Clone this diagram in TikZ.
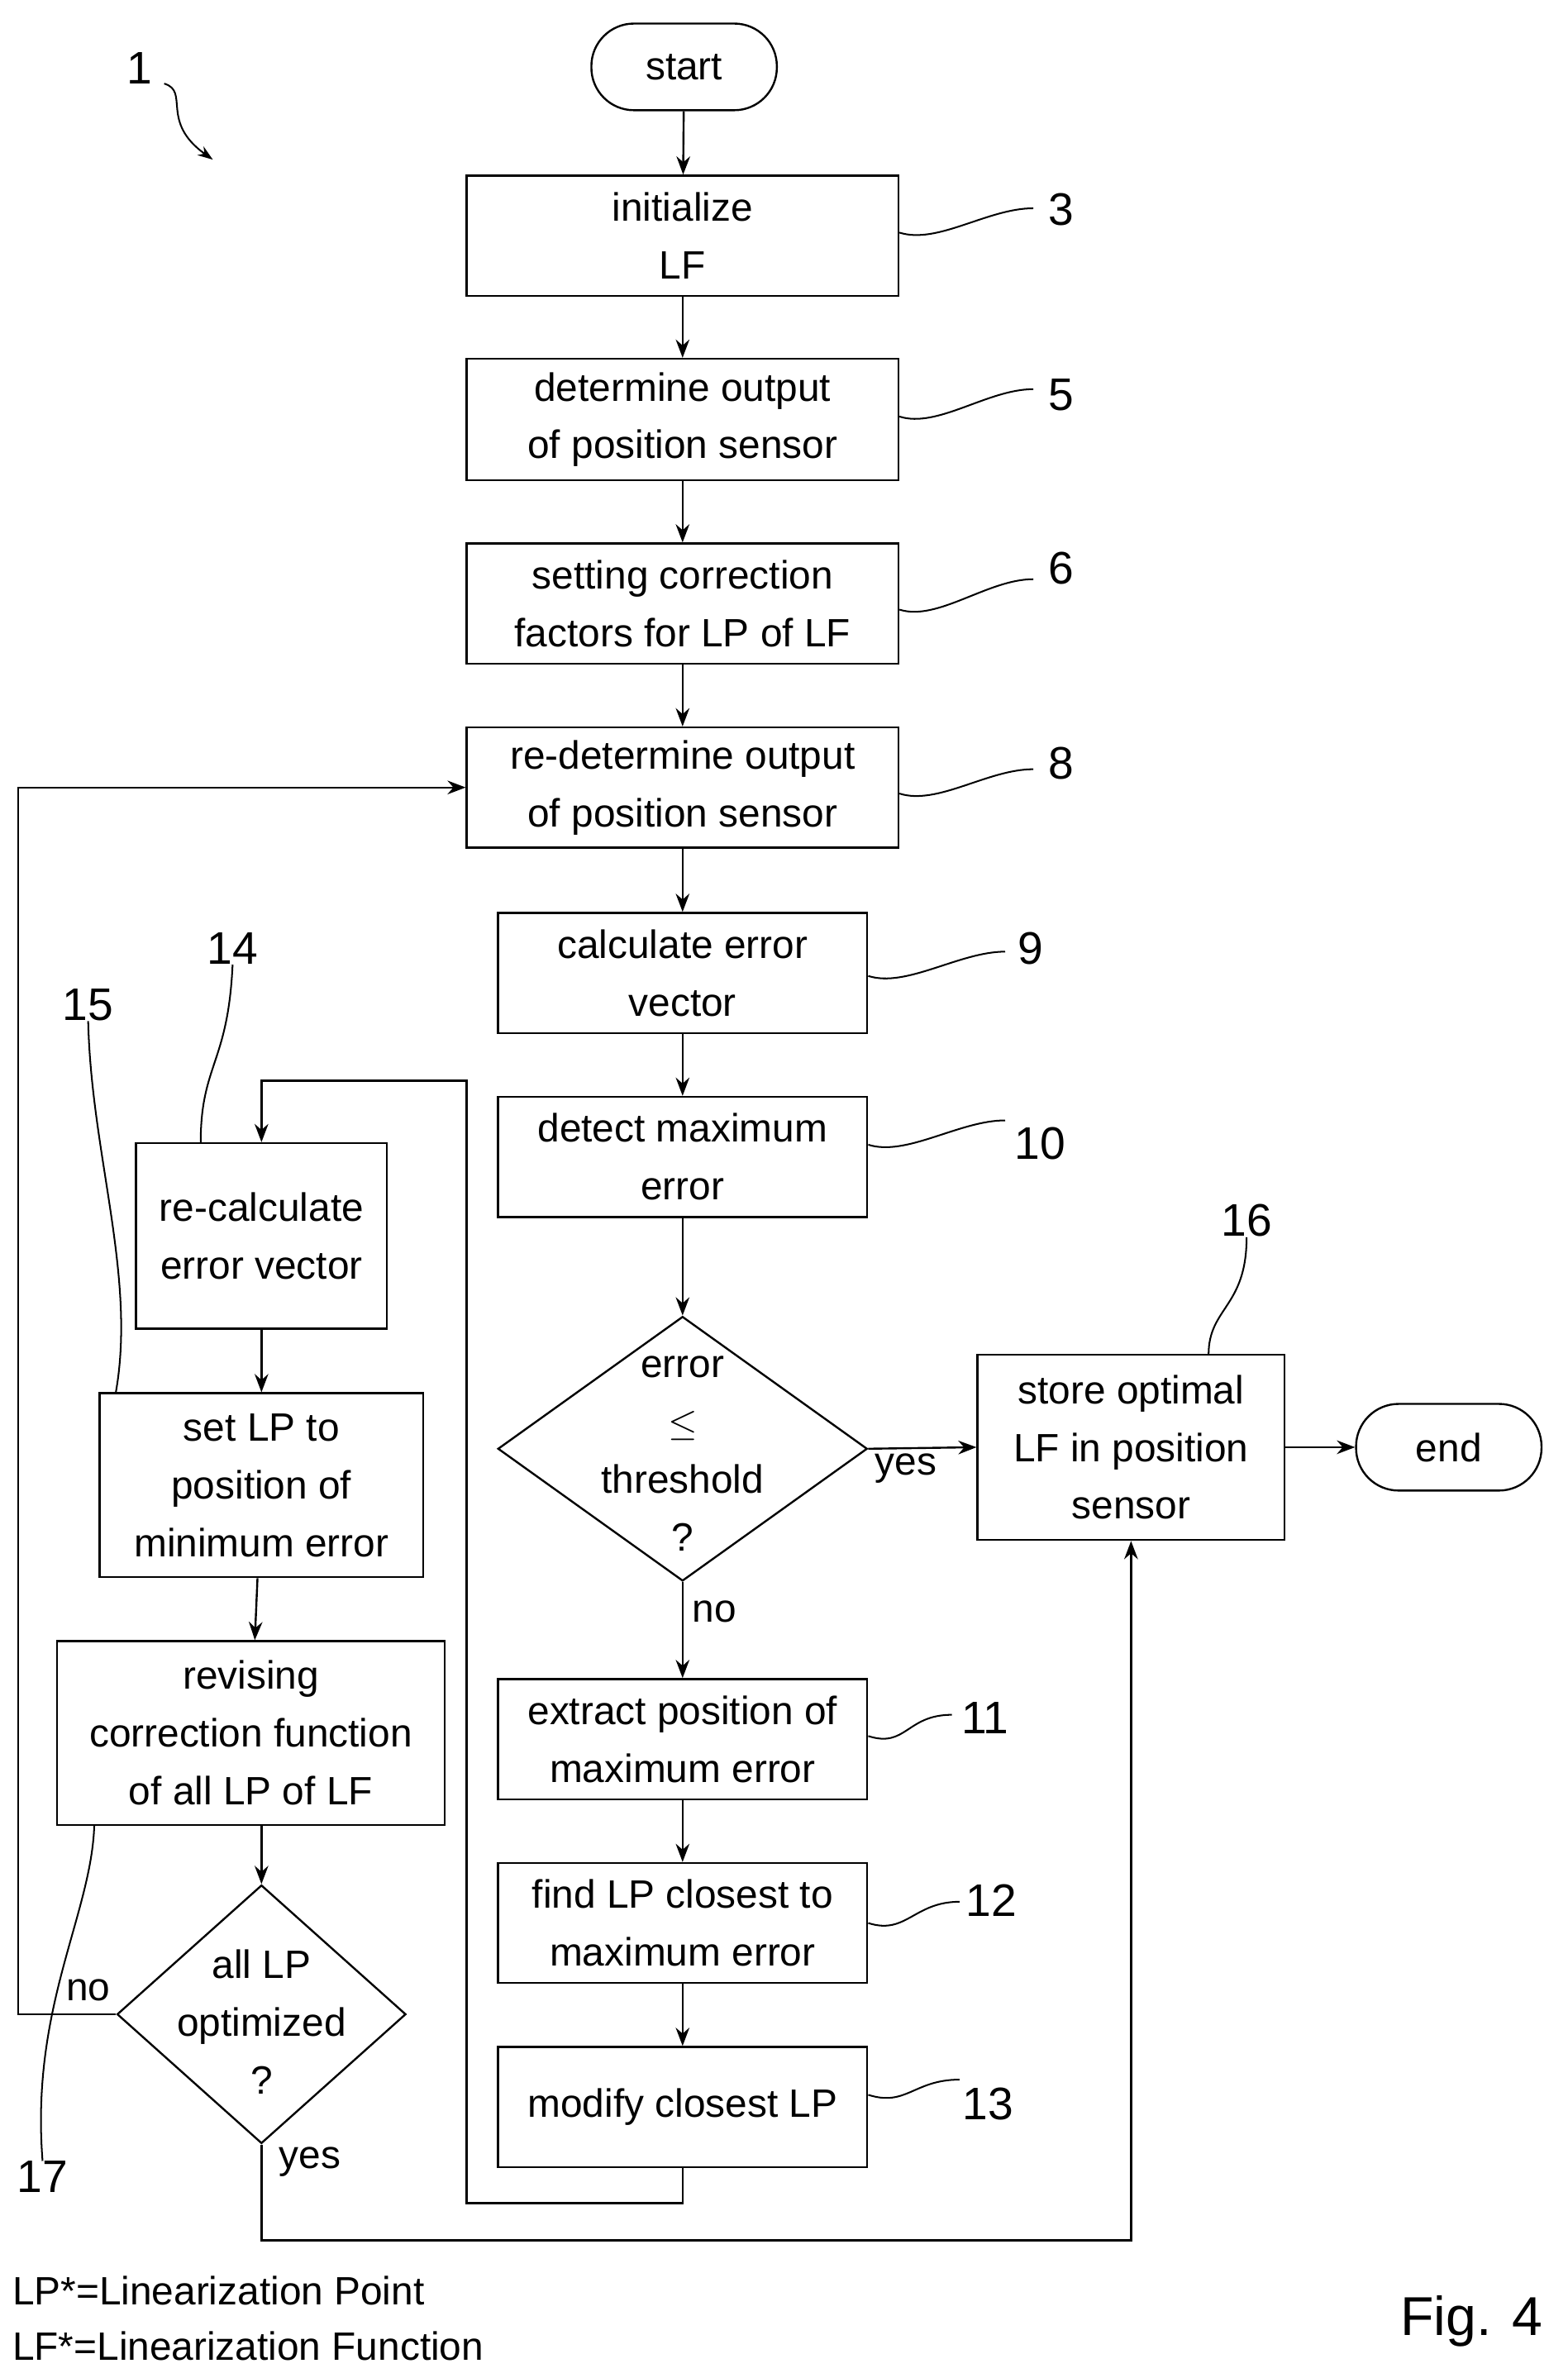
\documentclass[tikz,border=0pt]{standalone}
\usepackage{fontspec}
\setmainfont{Liberation Sans}
\usetikzlibrary{shapes.geometric,arrows.meta}
\begin{document}
\begin{tikzpicture}[x=1pt,y=-1pt,
 every node/.style={font=\fontsize{26}{38}\selectfont, inner sep=0pt, align=center},
 box/.style={draw, line width=1.3pt, rectangle},
 term/.style={draw, line width=1.3pt, rounded corners=28pt, minimum width=122pt, minimum height=57pt},
 dia/.style={draw, line width=1.3pt, diamond},
 ln/.style={line width=1.3pt},
 ar/.style={ln,-{Stealth[length=12pt,width=9pt]}},
 sq/.style={line width=1.1pt},
 num/.style={font=\fontsize{30}{36}\selectfont}]
\useasboundingbox (0,0) rectangle (1031,1561);
\newcommand{\bx}[6]{\node[box, minimum width=#4pt, minimum height=#5pt] (#1) at (#2,#3) {#6};}
\node[term] (start) at (450,44) {start};
\bx{b3}{449}{155}{284}{79}{initialize\\LF}
\bx{b5}{449}{276}{284}{80}{determine output\\of position sensor}
\bx{b6}{449}{397}{284}{79}{setting correction\\factors for LP of LF}
\bx{b8}{449}{518}{284}{79}{re-determine output\\of position sensor}
\bx{b9}{449}{640}{243}{79}{calculate error\\vector}
\bx{b10}{449}{761}{243}{79}{detect maximum\\error}
\node[dia, minimum width=243pt, minimum height=174pt] (d1) at (449,953) {};
\node (d1t) at (449,956) {error\\$\leq$\\threshold\\?};
\bx{b11}{449}{1144}{243}{79}{extract position of\\maximum error}
\bx{b12}{449}{1265}{243}{79}{find LP closest to\\maximum error}
\bx{b13}{449}{1386}{243}{79}{modify closest LP}
\bx{b16}{744}{952}{202}{122}{store optimal\\LF in position\\sensor}
\node[term] (end) at (953,952) {end};
\bx{b14}{172}{813}{165}{122}{re-calculate\\error vector}
\bx{b15}{172}{977}{213}{121}{set LP to\\position of\\minimum error}
\bx{b17}{165}{1140}{255}{121}{revising\\correction function\\of all LP of LF}
\node[dia, minimum width=190pt, minimum height=170pt] (d2) at (172,1325) {};
\node (d2t) at (172,1330) {all LP\\optimized\\?};
% main chain
\draw[ar] (start) -- (b3);
\draw[ar] (b3) -- (b5);
\draw[ar] (b5) -- (b6);
\draw[ar] (b6) -- (b8);
\draw[ar] (b8) -- (b9);
\draw[ar] (b9) -- (b10);
\draw[ar] (b10) -- (d1.north);
\draw[ar] (d1.south) -- (b11);
\draw[ar] (b11) -- (b12);
\draw[ar] (b12) -- (b13);
\draw[ar] (d1.east) -- (b16.west);
\draw[ar] (b16) -- (end);
\draw[ar] (b13.south) -- ++(0,23) -| (307,711) -| (b14.north);
\draw[ar] (b14) -- (b15);
\draw[ar] (b15) -- (b17);
\draw[ar] (b17.south -| d2.north) -- (d2.north);
\draw[ar] (d2.west) -| (12,518) -- (b8.west);
\draw[ar] (d2.south) -- ++(0,63) -| (b16.south);
\node at (596,966) {yes};
\node at (470,1060) {no};
\node at (58,1309) {no};
\node at (204,1422) {yes};
% reference numerals
\newcommand{\sqg}[5]{\draw[sq] (#1) .. controls ++(25,8) and ++(-30,0) .. ++(#2,#3); \node[num] at (#4) {#5};}
\coordinate (p3) at ([yshift=2pt]b3.east); \sqg{p3}{88}{-16}{698,138}{3}
\coordinate (p5) at ([yshift=2pt]b5.east); \sqg{p5}{88}{-18}{698,260}{5}
\coordinate (p6) at ([yshift=-4pt]b6.east); \sqg{p6}{88}{-20}{698,374}{6}
\coordinate (p8) at ([yshift=-4pt]b8.east); \sqg{p8}{88}{-16}{698,502}{8}
\coordinate (p9) at ([yshift=-2pt]b9.east); \sqg{p9}{90}{-16}{678,624}{9}
\coordinate (p10) at ([yshift=8pt]b10.east); \sqg{p10}{90}{-16}{684,752}{10}
\coordinate (p11) at ([yshift=2pt]b11.east); \sqg{p11}{55}{-14}{648,1130}{11}
\coordinate (p12) at ([yshift=0pt]b12.east); \sqg{p12}{60}{-14}{652,1250}{12}
\coordinate (p13) at ([yshift=8pt]b13.east); \sqg{p13}{60}{-10}{650,1384}{13}
\node[num] (n16) at (820,803) {16};
\draw[sq] (n16.south) .. controls (820,860) and (795,860) .. (795,891);
\node[num] (n14) at (153,624) {14};
\draw[sq] (n14.south) .. controls (150,700) and (132,700) .. (132,752);
\node[num] (n15) at (58,661) {15};
\draw[sq] (n15.south) .. controls (60,760) and (90,840) .. (76,917);
\node[num] (n17) at (28,1432) {17};
\draw[sq] (n17.north) .. controls (20,1320) and (60,1260) .. (62,1201);
\node[num] (n1) at (92,45) {1};
\draw[sq,-{Stealth[length=10pt,width=7pt]}] (108,55) .. controls (125,60) and (105,80) .. (140,105);
\node[anchor=west] at (8,1507) {LP*=Linearization Point};
\node[anchor=west] at (8,1543) {LF*=Linearization Function};
\node[font=\fontsize{36}{40}\selectfont] at (968,1527) {Fig. 4};
\end{tikzpicture}
\end{document}
